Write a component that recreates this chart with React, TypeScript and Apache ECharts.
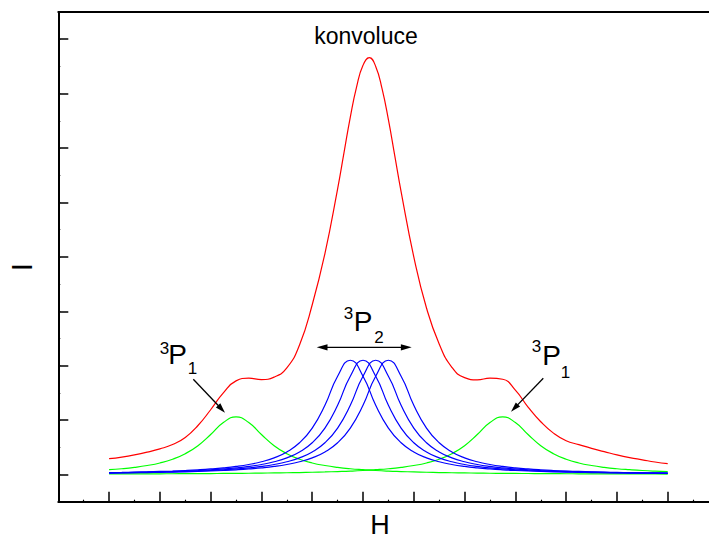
import React, { useEffect, useRef } from "react";
import * as echarts from "echarts";

// x positions (H, arbitrary units) shared by the component curves
const xs = [0, 0.25, 0.5, 0.75, 1, 1.25, 1.5, 1.75, 2, 2.25, 2.5, 2.75, 3, 3.25, 3.5, 3.75, 4, 4.25, 4.5, 4.75, 5, 5.25, 5.5, 5.75, 6, 6.25, 6.5, 6.75, 7, 7.25, 7.5, 7.75, 8, 8.25, 8.5, 8.75, 9, 9.25, 9.5, 9.75, 10, 10.25, 10.5, 10.75, 11];

// 3P1 components (green)
const greenLeft = [0.088, 0.106, 0.131, 0.165, 0.212, 0.281, 0.382, 0.53, 0.734, 0.954, 1.06, 0.954, 0.734, 0.53, 0.382, 0.281, 0.212, 0.165, 0.131, 0.106, 0.088, 0.073, 0.062, 0.054, 0.047, 0.041, 0.036, 0.032, 0.029, 0.026, 0.023, 0.021, 0.019, 0.018, 0.016, 0.015, 0.014, 0.013, 0.012, 0.011, 0.0105, 0.0098, 0.0093, 0.0087, 0.0082];
const greenRight = [0.0098, 0.0105, 0.0112, 0.012, 0.0129, 0.0139, 0.015, 0.0163, 0.0177, 0.0194, 0.0212, 0.0233, 0.0258, 0.0286, 0.032, 0.036, 0.041, 0.047, 0.054, 0.062, 0.073, 0.088, 0.106, 0.131, 0.165, 0.212, 0.281, 0.382, 0.53, 0.734, 0.954, 1.06, 0.954, 0.734, 0.53, 0.382, 0.281, 0.212, 0.165, 0.131, 0.106, 0.088, 0.073, 0.062, 0.054];

// 3P2 components (blue)
const blue1 = [0.0352, 0.0391, 0.0438, 0.0493, 0.0559, 0.0639, 0.0737, 0.086, 0.1016, 0.1217, 0.148, 0.184, 0.234, 0.306, 0.415, 0.583, 0.853, 1.272, 1.806, 2.1, 1.806, 1.272, 0.853, 0.583, 0.415, 0.306, 0.234, 0.184, 0.148, 0.1217, 0.1016, 0.086, 0.0737, 0.0639, 0.0559, 0.0493, 0.0438, 0.0391, 0.0352, 0.0318, 0.0289, 0.0263, 0.0241, 0.0222, 0.0205];
const blue2 = [0.0318, 0.0352, 0.0391, 0.0438, 0.0493, 0.0559, 0.0639, 0.0737, 0.086, 0.1016, 0.1217, 0.148, 0.184, 0.234, 0.306, 0.415, 0.583, 0.853, 1.272, 1.806, 2.1, 1.806, 1.272, 0.853, 0.583, 0.415, 0.306, 0.234, 0.184, 0.148, 0.1217, 0.1016, 0.086, 0.0737, 0.0639, 0.0559, 0.0493, 0.0438, 0.0391, 0.0352, 0.0318, 0.0289, 0.0263, 0.0241, 0.0222];
const blue3 = [0.0289, 0.0318, 0.0352, 0.0391, 0.0438, 0.0493, 0.0559, 0.0639, 0.0737, 0.086, 0.1016, 0.1217, 0.148, 0.184, 0.234, 0.306, 0.415, 0.583, 0.853, 1.272, 1.806, 2.1, 1.806, 1.272, 0.853, 0.583, 0.415, 0.306, 0.234, 0.184, 0.148, 0.1217, 0.1016, 0.086, 0.0737, 0.0639, 0.0559, 0.0493, 0.0438, 0.0391, 0.0352, 0.0318, 0.0289, 0.0263, 0.0241];
const blue4 = [0.0263, 0.0289, 0.0318, 0.0352, 0.0391, 0.0438, 0.0493, 0.0559, 0.0639, 0.0737, 0.086, 0.1016, 0.1217, 0.148, 0.184, 0.234, 0.306, 0.415, 0.583, 0.853, 1.272, 1.806, 2.1, 1.806, 1.272, 0.853, 0.583, 0.415, 0.306, 0.234, 0.184, 0.148, 0.1217, 0.1016, 0.086, 0.0737, 0.0639, 0.0559, 0.0493, 0.0438, 0.0391, 0.0352, 0.0318, 0.0289, 0.0263];

// convolution (red)
const redX = [0, 0.25, 0.5, 0.75, 1, 1.25, 1.5, 1.75, 2, 2.25, 2.5, 2.75, 3, 3.25, 3.5, 3.75, 4, 4.25, 4.5, 4.625, 4.75, 4.875, 5, 5.125, 5.25, 5.375, 5.5, 5.625, 5.75, 6, 6.25, 6.5, 6.75, 7, 7.25, 7.5, 7.75, 8, 8.25, 8.5, 8.75, 9, 9.25, 9.5, 9.75, 10, 10.25, 10.5, 10.75, 11];
const redY = [0.29, 0.32, 0.36, 0.41, 0.47, 0.55, 0.68, 0.9, 1.19, 1.5, 1.72, 1.77, 1.745, 1.79, 1.96, 2.38, 3.12, 4.06, 5.25, 5.91, 6.57, 7.13, 7.52, 7.66, 7.5, 7.09, 6.52, 5.86, 5.2, 4.0, 3.06, 2.4, 1.97, 1.78, 1.74, 1.77, 1.75, 1.55, 1.24, 0.97, 0.76, 0.62, 0.55, 0.48, 0.42, 0.36, 0.31, 0.27, 0.23, 0.2];

const FONT = '"Liberation Sans", Arial, Helvetica, sans-serif';

export default function App() {
  const ref = useRef<HTMLDivElement>(null);

  useEffect(() => {
    if (!ref.current) return;
    const chart = echarts.init(ref.current, null, { renderer: "svg" });

    const pairs = (ys: number[], x: number[] = xs) => ys.map((y, i) => [x[i], y]);
    const curve = (name: string, data: number[][], color: string, z: number) => ({
      type: "line",
      name,
      data,
      xAxisIndex: 0,
      yAxisIndex: 0,
      symbol: "none",
      showSymbol: false,
      smooth: 0.5,
      silent: true,
      z,
      lineStyle: { color, width: 1.2 },
      itemStyle: { color },
      emphasis: { disabled: true },
    });

    // chart canvas is 720 wide, clipped to 709 by the wrapper
    const gridBox = { left: 58.3, top: 12, right: 1.5, bottom: 36.3 };
    const txt = (text: string, x: number, y: number, size: number, rotation = 0) => ({
      type: "text",
      x,
      y,
      rotation,
      z: 100,
      style: {
        text,
        fontSize: size,
        lineHeight: Math.round(size * 0.8),
        fontFamily: FONT,
        fill: "#000",
        align: "center",
        verticalAlign: "middle",
      },
    });
    const seg = (x1: number, y1: number, x2: number, y2: number) => ({
      type: "line",
      z: 100,
      shape: { x1, y1, x2, y2 },
      style: { stroke: "#000", lineWidth: 1.3 },
    });
    const head = (pts: number[][]) => ({
      type: "polygon",
      z: 100,
      shape: { points: pts },
      style: { fill: "#000" },
    });

    chart.setOption({
      animation: false,
      backgroundColor: "#fff",
      grid: [
        { ...gridBox, containLabel: false },
        { ...gridBox, containLabel: false },
      ],
      xAxis: [
        {
          type: "value",
          gridIndex: 0,
          position: "bottom",
          min: -1,
          max: 12,
          interval: 1,
          axisLine: { show: true, onZero: false, lineStyle: { color: "#000", width: 2 } },
          axisTick: { show: true, inside: true, length: 10, lineStyle: { color: "#000", width: 1.5 } },
          minorTick: { show: true, splitNumber: 2, length: 2, lineStyle: { color: "#000", width: 1.2 } },
          axisLabel: { show: false },
          splitLine: { show: false },
          minorSplitLine: { show: false },
        },
        {
          type: "value",
          gridIndex: 0,
          position: "top",
          min: -1,
          max: 12,
          interval: 0.5,
          axisLine: { show: true, onZero: false, lineStyle: { color: "#000", width: 2 } },
          axisTick: { show: true, inside: true, length: 1, lineStyle: { color: "#000", width: 1 } },
          axisLabel: { show: false },
          splitLine: { show: false },
        },
        {
          type: "value",
          gridIndex: 1,
          position: "bottom",
          min: -1,
          max: 12,
          axisLine: { show: false, onZero: false },
          axisTick: { show: false },
          axisLabel: { show: false },
          splitLine: { show: false },
        },
      ],
      yAxis: [
        {
          type: "value",
          gridIndex: 0,
          position: "left",
          min: -0.5,
          max: 8.5,
          splitNumber: 9,
          minInterval: 1,
          maxInterval: 1,
          axisLine: { show: true, onZero: false, lineStyle: { color: "#000", width: 2 } },
          axisTick: { show: true, inside: true, length: 10, lineStyle: { color: "#000", width: 1.5 } },
          axisLabel: { show: false },
          splitLine: { show: false },
        },
        {
          type: "value",
          gridIndex: 1,
          position: "left",
          min: -0.5,
          max: 8.5,
          interval: 0.5,
          axisLine: { show: false, onZero: false },
          axisTick: { show: true, inside: true, length: 2, lineStyle: { color: "#000", width: 1.2 } },
          axisLabel: { show: false },
          splitLine: { show: false },
        },
      ],
      series: [
        curve("3P1 left", pairs(greenLeft), "#00ff00", 2),
        curve("3P1 right", pairs(greenRight), "#00ff00", 2),
        curve("3P2 a", pairs(blue1), "#0000ff", 3),
        curve("3P2 b", pairs(blue2), "#0000ff", 3),
        curve("3P2 c", pairs(blue3), "#0000ff", 3),
        curve("3P2 d", pairs(blue4), "#0000ff", 3),
        curve("konvoluce", pairs(redY, redX), "#ff0000", 4),
      ],
      graphic: [
        txt("konvoluce", 366, 36, 23),
        txt("H", 380, 524.5, 27),
        txt("I", 21, 267, 30, Math.PI / 2),
        // center label 3P2
        txt("3", 348.5, 313, 17),
        txt("P", 363, 321.5, 28),
        txt("2", 379, 337, 17),
        // left label 3P1
        txt("3", 164.5, 348, 17),
        txt("P", 177.5, 354, 28),
        txt("1", 192.5, 368.5, 17),
        // right label 3P1
        txt("3", 536.5, 346, 17),
        txt("P", 551.5, 355, 28),
        txt("1", 565.5, 372, 17),
        // double arrow
        seg(325, 347.3, 403, 347.3),
        head([[316.7, 347.3], [327.5, 344.2], [327.5, 350.4]]),
        head([[411.7, 347.3], [400.9, 344.2], [400.9, 350.4]]),
        // left arrow
        seg(193.3, 379.3, 218.5, 405.8),
        head([[225, 412.7], [215.9, 407.5], [220.3, 403.3]]),
        // right arrow
        seg(543.3, 378.3, 517.6, 404.9),
        head([[511, 411.7], [515.8, 402.4], [520.1, 406.6]]),
      ],
    });

    return () => {
      chart.dispose();
    };
  }, []);

  return (
    <div
      style={{ position: "absolute", left: 0, top: 0, width: 709, height: 538, overflow: "hidden", background: "#fff" }}
    >
      <div ref={ref} style={{ width: 720, height: 538 }} />
    </div>
  );
}
